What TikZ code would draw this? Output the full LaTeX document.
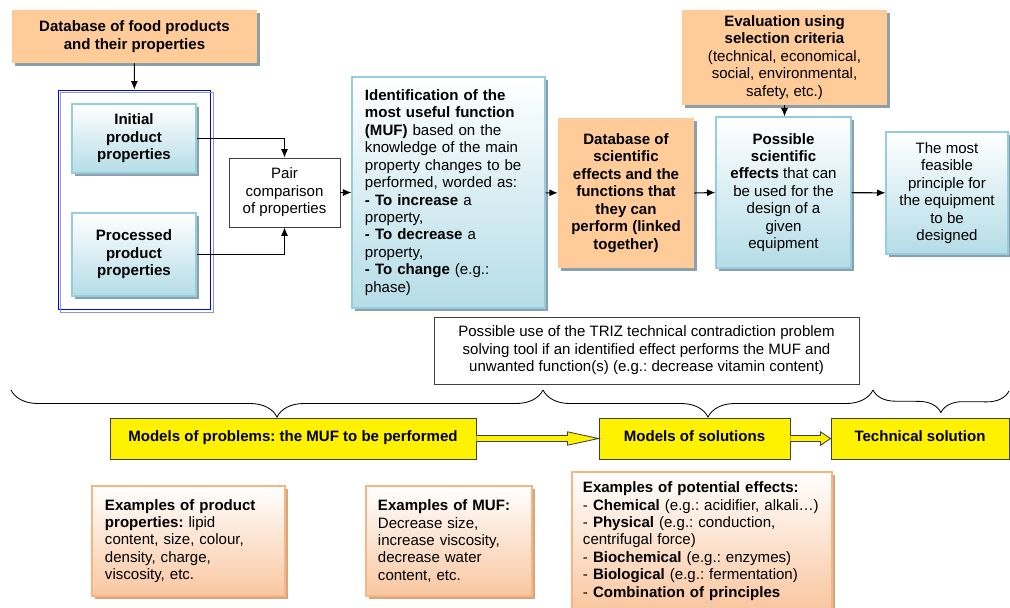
\documentclass[tikz,border=0pt]{standalone}
\usepackage{fontspec}
\setmainfont{Liberation Sans}
\usetikzlibrary{calc,shadows,decorations.pathreplacing,arrows.meta}
\tikzset{>={Latex[length=6pt,width=5pt]}}
\frenchspacing
\definecolor{orangefill}{RGB}{255,204,153}
\definecolor{shadowblue}{RGB}{140,160,172}
\definecolor{blueborder}{RGB}{150,205,222}
\definecolor{bluebottom}{RGB}{180,220,231}
\definecolor{peachborder}{RGB}{246,182,132}
\definecolor{peachbottom}{RGB}{249,198,160}
\definecolor{peachshadow}{RGB}{214,166,128}
\tikzset{
  base/.style={font=\fontsize{10.7}{12.4}\selectfont, inner sep=2pt, align=center},
  orangebox/.style={base, fill=orangefill,
    drop shadow={shadow xshift=0.075cm, shadow yshift=-0.075cm, fill=shadowblue, opacity=1}},
  bluebox/.style={base, draw=blueborder, line width=0.8pt, top color=white, bottom color=bluebottom,
    drop shadow={shadow xshift=0.075cm, shadow yshift=-0.075cm, fill=shadowblue, opacity=1}},
  peachbox/.style={base, draw=peachborder, line width=0.8pt, top color=white, bottom color=peachbottom,
    drop shadow={shadow xshift=0.075cm, shadow yshift=-0.075cm, fill=peachshadow, opacity=1}},
  plainbox/.style={base, draw=black!75, line width=0.6pt},
  yellowbox/.style={base, font=\fontsize{10.7}{12}\selectfont\bfseries, draw=black!75,
    line width=0.6pt, fill=yellow, minimum height=1.025cm},
  link/.style={->, line width=0.75pt},
  bracepath/.style={decorate, decoration={brace, mirror, amplitude=#1}, line width=0.6pt},
  yarrowline/.style={draw=black!75, fill=yellow, line width=0.6pt}
}
\newcommand{\yarrow}[3]{%
  \draw[yarrowline] ($(#1.east)+(0,-3)$) -- ($(#2.west)+(-#3,-3)$) -- ($(#2.west)+(-#3,-6.7)$)
    -- (#2.west) -- ($(#2.west)+(-#3,6.7)$) -- ($(#2.west)+(-#3,3)$) -- ($(#1.east)+(0,3)$);}

\begin{document}
\begin{tikzpicture}[x=0.025cm,y=-0.025cm]
  \useasboundingbox (0,0) rectangle (1010,607);

  \node[orangebox, minimum width=6.125cm, minimum height=1.325cm] (dbfood) at (134.5,36.5)
    {\textbf{Database of food products}\\\textbf{and their properties}};
  \node[draw=blue, line width=0.6pt, minimum width=3.8cm, minimum height=5.475cm] (propframe) at (134,199.5) {};
  \draw[shadowblue, line width=0.6pt] ($(propframe.south west)+(3,3)$) rectangle ($(propframe.north east)+(3,3)$);
  \node[bluebox, minimum width=3.1cm, minimum height=1.725cm] (init) at (134,138.5)
    {\textbf{Initial}\\\textbf{product}\\\textbf{properties}};
  \node[bluebox, minimum width=3.1cm, minimum height=2.075cm] (proc) at (134,254.5)
    {\textbf{Processed}\\\textbf{product}\\\textbf{properties}};
  \node[plainbox, minimum width=2.775cm, minimum height=1.725cm] (pair) at (284.5,192.5)
    {Pair\\comparison\\of properties};
  \node[bluebox, text width=4.175cm, inner xsep=0.325cm, minimum height=5.775cm, align=left] (muf) at (448.5,192.5)
    {\textbf{Identification of the}\\\textbf{most useful function}\\\textbf{(MUF)} based on the\\knowledge of the main\\property changes to be\\performed, worded as:\\\textbf{- To increase} a\\property,\\\textbf{- To decrease} a\\property,\\\textbf{- To change} (e.g.:\\phase)};
  \node[orangebox, minimum width=3.4cm, minimum height=3.75cm] (dbsci) at (626,193)
    {\textbf{Database of}\\\textbf{scientific}\\\textbf{effects and the}\\\textbf{functions that}\\\textbf{they can}\\\textbf{perform (linked}\\\textbf{together)}};
  \node[orangebox, minimum width=5.125cm, minimum height=2.375cm] (eval) at (784.5,57.5)
    {\textbf{Evaluation using}\\\textbf{selection criteria}\\(technical, economical,\\social, environmental,\\safety, etc.)};
  \node[bluebox, minimum width=3.375cm, minimum height=3.775cm] (effects) at (783.5,192.5)
    {\textbf{Possible}\\\textbf{scientific}\\\textbf{effects} that can\\be used for the\\design of a\\given\\equipment};
  \node[bluebox, minimum width=3.05cm, minimum height=3.05cm] (feasible) at (947,193)
    {The most\\feasible\\principle for\\the equipment\\to be\\designed};
  \node[plainbox, minimum width=10.625cm, minimum height=1.675cm] (triz) at (646.5,350.5)
    {Possible use of the TRIZ technical contradiction problem\\solving tool if an identified effect performs the MUF and\\unwanted function(s) (e.g.: decrease vitamin content)};

  \node[yellowbox, minimum width=9.15cm] (prob) at (293,438.5) {\raisebox{3pt}{Models of problems: the MUF to be performed}};
  \node[yellowbox, minimum width=4.775cm] (sol) at (694.5,438.5) {\raisebox{3pt}{Models of solutions}};
  \node[yellowbox, minimum width=4.45cm] (tech) at (920,438.5) {\raisebox{3pt}{Technical solution}};

  \node[peachbox, text width=4.175cm, inner xsep=0.325cm, minimum height=2.75cm, align=left] (exprop) at (188.5,541)
    {\textbf{Examples of product}\\\textbf{properties:} lipid\\content, size, colour,\\density, charge,\\viscosity, etc.};
  \node[peachbox, text width=3.55cm, inner xsep=0.3cm, minimum height=2.75cm, align=left] (exmuf) at (449,541)
    {\textbf{Examples of MUF:}\\Decrease size,\\increase viscosity,\\decrease water\\content, etc.};
  \node[peachbox, text width=5.95cm, inner xsep=0.275cm, minimum height=3.45cm, align=left] (exeff) at (702,541)
    {\textbf{Examples of potential effects:}\\- \textbf{Chemical} (e.g.: acidifier, alkali…)\\- \textbf{Physical} (e.g.: conduction,\\centrifugal force)\\- \textbf{Biochemical} (e.g.: enzymes)\\- \textbf{Biological} (e.g.: fermentation)\\- \textbf{Combination of principles}};

  \draw[link] (dbfood) -- (propframe);
  \draw[link] (init.east) -| (pair.north);
  \draw[link] (proc.east) -| (pair.south);
  \draw[link] (pair) -- (muf);
  \draw[link] (muf) -- (dbsci);
  \draw[link] (dbsci.east) -- (effects.west);
  \draw[link] (eval.south) -- (eval.south |- effects.north);
  \draw[link] (effects) -- (feasible);

  \yarrow{prob}{sol}{31}
  \yarrow{sol}{tech}{10}

  \coordinate (b1) at (11,390);
  \coordinate (b2) at (543,390);
  \coordinate (b3) at (873,390);
  \coordinate (b4) at (1009,391);
  \draw[bracepath=0.675cm] (b1) -- (b2);
  \draw[bracepath=0.675cm] (b2) -- (b3);
  \draw[bracepath=0.55cm] (b3) -- (b4);
\end{tikzpicture}
\end{document}
